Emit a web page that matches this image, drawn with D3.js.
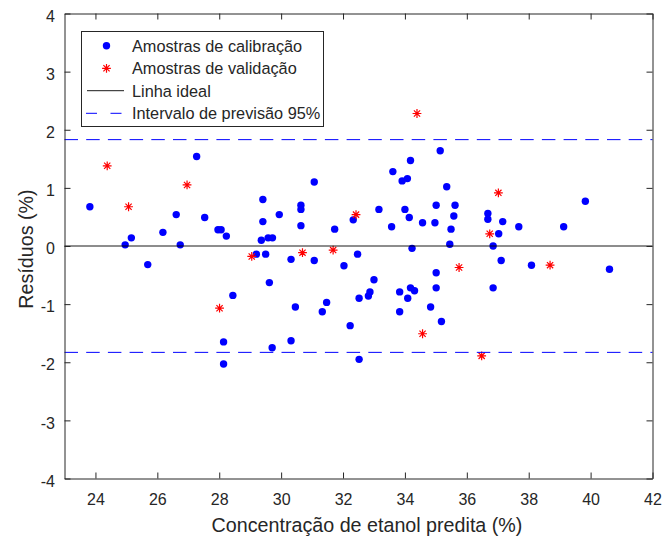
<!DOCTYPE html>
<html>
<head>
<meta charset="utf-8">
<script src="https://cdn.jsdelivr.net/npm/d3@7"></script>
<style>
  html, body { margin: 0; padding: 0; background: #fff; }
  svg { display: block; }
  text { font-family: "Liberation Sans", Arial, sans-serif; fill: #262626; }
</style>
</head>
<body>
<svg id="chart" width="664" height="540"></svg>
<script>
// Calibration samples: predicted ethanol concentration (%) and residual (%)
const calX = [23.82, 24.96, 25.16, 25.69, 26.18, 26.61, 26.74, 27.27, 27.53, 27.96, 28.06, 28.23, 28.14, 28.14, 28.44,
  29.20, 29.36, 29.50, 29.41, 29.41, 29.58, 29.72, 29.62, 29.71, 29.94, 30.32, 30.46, 30.32, 30.64, 30.64, 30.64,
  35.14, 34.18, 33.61, 33.91, 34.08, 35.35, 31.07, 33.16, 34.00, 35.01, 35.62, 35.58, 34.14, 32.33, 31.73, 33.57,
  34.57, 34.97, 35.49, 35.45, 34.23, 31.07, 32.47, 32.03, 33.00, 32.87, 32.82, 33.83, 34.18, 34.31, 34.09, 35.01,
  35.01, 31.47, 31.33, 32.52, 33.83, 34.83, 32.23, 35.18, 32.52,
  39.83, 36.68, 36.68, 37.16, 37.68, 39.13, 37.03, 36.85, 37.11, 38.09, 40.61, 36.85];
const calY = [0.675, 0.02, 0.14, -0.32, 0.235, 0.54, 0.02, 1.54, 0.49, 0.28, 0.28, 0.17, -1.65, -2.03, -0.85,
  -0.14, 0.10, -0.14, 0.80, 0.42, 0.14, 0.14, -0.63, -1.75, 0.54, -0.23, -1.05, -1.63, 0.70, 0.63, 0.35,
  1.64, 1.47, 1.28, 1.12, 1.16, 1.02, 1.10, 0.63, 0.63, 0.70, 0.70, 0.515, 0.49, 0.45, 0.29, 0.33,
  0.40, 0.40, 0.29, 0.03, -0.04, -0.25, -0.14, -0.34, -0.58, -0.79, -0.86, -0.79, -0.72, -0.77, -0.90, -0.46,
  -0.72, -0.97, -1.13, -0.90, -1.13, -1.05, -1.37, -1.30, -1.95,
  0.77, 0.56, 0.46, 0.42, 0.33, 0.33, 0.21, 0.00, -0.25, -0.33, -0.40, -0.72];

// Validation samples
const valX = [24.38, 25.07, 26.96, 28.01, 29.05, 30.69, 32.42, 31.68, 34.39, 35.75, 34.57, 37.02, 36.74, 38.69, 36.48];
const valY = [1.38, 0.675, 1.05, -1.07, -0.18, -0.115, 0.54, -0.07, 2.28, -0.37, -1.51, 0.915, 0.21, -0.33, -1.89];

// 95% prediction interval half-width
const piLimit = 1.83;

// Axis ticks
const xTicks = [24, 26, 28, 30, 32, 34, 36, 38, 40, 42];
const yTicks = [-4, -3, -2, -1, 0, 1, 2, 3, 4];

const legendLabels = ["Amostras de calibração", "Amostras de validação", "Linha ideal", "Intervalo de previsão 95%"];

const axisColor = "#262626";
const blue = "#0000ff";
const red = "#ff0000";

const svg = d3.select("#chart");
const plotLeft = 64.5, plotRight = 652.5, plotTop = 13.5, plotBottom = 478.5;

const x = d3.scaleLinear().domain([23, 42]).range([plotLeft, plotRight]);
const y = d3.scaleLinear().domain([-4, 4]).range([plotBottom, plotTop]);

// white plotting area
svg.append("rect").attr("x", plotLeft).attr("y", plotTop)
  .attr("width", plotRight - plotLeft).attr("height", plotBottom - plotTop).attr("fill", "#fff");

const calData = calX.map((v, i) => [v, calY[i]]);
const valData = valX.map((v, i) => [v, valY[i]]);

// asterisk marker path (plus + cross)
function starPath(r) {
  const d = r * Math.SQRT1_2;
  return `M${-r},0L${r},0M0,${-r}L0,${r}M${-d},${-d}L${d},${d}M${-d},${d}L${d},${-d}`;
}

const plot = svg.append("g");

plot.selectAll("circle.cal").data(calData).join("circle")
  .attr("class", "cal")
  .attr("cx", d => x(d[0])).attr("cy", d => y(d[1]))
  .attr("r", 3.7).attr("fill", blue);

plot.selectAll("path.val").data(valData).join("path")
  .attr("class", "val")
  .attr("transform", d => `translate(${x(d[0])},${y(d[1])})`)
  .attr("d", starPath(4.4))
  .attr("stroke", red).attr("stroke-width", 1.2).attr("fill", "none");

// ideal line (zero residual)
plot.append("line")
  .attr("x1", x(23)).attr("x2", x(42)).attr("y1", y(0)).attr("y2", y(0))
  .attr("stroke", "#000").attr("stroke-width", 0.9);

// prediction interval limits
[piLimit, -piLimit].forEach(v => {
  plot.append("line")
    .attr("x1", x(23)).attr("x2", x(42)).attr("y1", y(v)).attr("y2", y(v))
    .attr("stroke", blue).attr("stroke-width", 1)
    .attr("stroke-dasharray", "13.5,8.2");
});

// axes with inward ticks on all four sides; plain hyphen for negatives
const fmt = d => String(d);
const tickLen = 6;
const gx = svg.append("g").attr("transform", `translate(0,${plotBottom})`)
  .call(d3.axisBottom(x).tickValues(xTicks).tickFormat(fmt).tickSizeInner(-tickLen).tickSizeOuter(0).tickPadding(15));
const gy = svg.append("g").attr("transform", `translate(${plotLeft},0)`)
  .call(d3.axisLeft(y).tickValues(yTicks).tickFormat(fmt).tickSizeInner(-tickLen).tickSizeOuter(0).tickPadding(9.5));
const gt = svg.append("g").attr("transform", `translate(0,${plotTop})`)
  .call(d3.axisTop(x).tickValues(xTicks).tickSizeInner(-tickLen).tickSizeOuter(0).tickFormat(""));
const gr = svg.append("g").attr("transform", `translate(${plotRight},0)`)
  .call(d3.axisRight(y).tickValues(yTicks).tickSizeInner(-tickLen).tickSizeOuter(0).tickFormat(""));

[gx, gy, gt, gr].forEach(g => {
  g.select(".domain").attr("stroke", axisColor).attr("stroke-width", 1);
  g.selectAll(".tick line").attr("stroke", axisColor).attr("stroke-width", 1);
  g.selectAll(".tick text")
    .attr("fill", axisColor)
    .style("font-family", '"Liberation Sans", Arial, sans-serif')
    .style("font-size", "16px");
});
gy.selectAll(".tick text").attr("dy", "0.48em");

// axis titles
svg.append("text")
  .attr("x", 367).attr("y", 532)
  .attr("text-anchor", "middle")
  .style("font-size", "19.7px")
  .text("Concentração de etanol predita (%)");

svg.append("text")
  .attr("transform", "translate(32.5,249) rotate(-90)")
  .attr("text-anchor", "middle")
  .style("font-size", "19.7px")
  .text("Resíduos (%)");

// legend
const lg = svg.append("g");
lg.append("rect")
  .attr("x", 81.5).attr("y", 31.5).attr("width", 242).attr("height", 95)
  .attr("fill", "#fff").attr("stroke", axisColor).attr("stroke-width", 1);

const rowY = [45.7, 68.3, 90.7, 113.3];
const markX = 106.5, textX = 132;

lg.append("circle").attr("cx", markX).attr("cy", rowY[0]).attr("r", 3.7).attr("fill", blue);
lg.append("path").attr("transform", `translate(${markX},${rowY[1]})`)
  .attr("d", starPath(4.4)).attr("stroke", red).attr("stroke-width", 1.2).attr("fill", "none");
lg.append("line").attr("x1", 87).attr("x2", 124).attr("y1", rowY[2]).attr("y2", rowY[2])
  .attr("stroke", "#000").attr("stroke-width", 0.9);
lg.append("line").attr("x1", 86).attr("x2", 124).attr("y1", rowY[3]).attr("y2", rowY[3])
  .attr("stroke", blue).attr("stroke-width", 1).attr("stroke-dasharray", "11,13.5");

lg.selectAll("text.lab").data(legendLabels).join("text")
  .attr("class", "lab")
  .attr("x", textX).attr("y", (d, i) => rowY[i] + 5.8)
  .style("font-size", "16.3px")
  .text(d => d);
</script>
</body>
</html>
